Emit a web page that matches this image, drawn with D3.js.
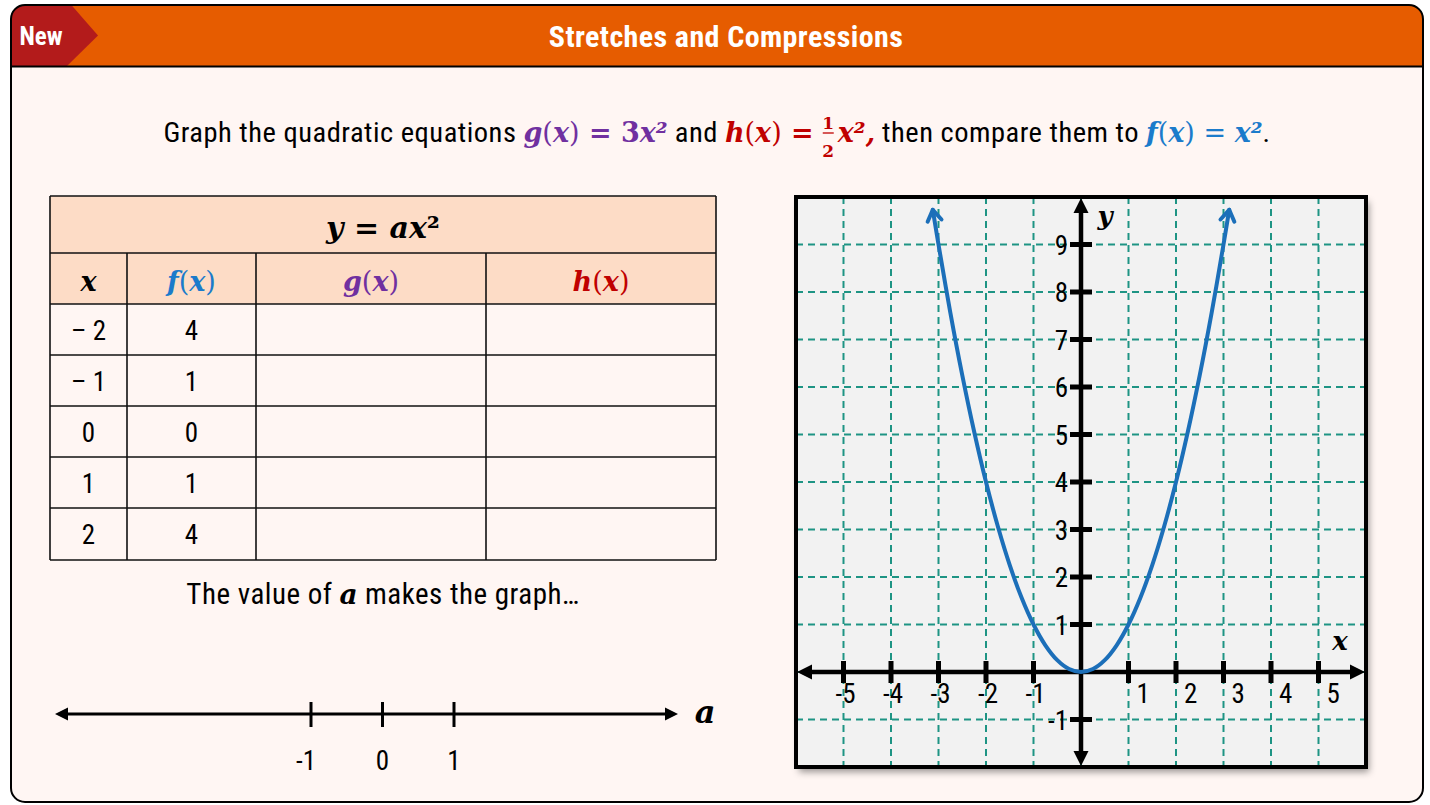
<!DOCTYPE html>
<html>
<head>
<meta charset="utf-8">
<script src="https://cdn.jsdelivr.net/npm/d3@7"></script>
<style>
  html, body { margin: 0; padding: 0; background: #ffffff; }
  svg { display: block; }
</style>
</head>
<body>
<svg id="card" width="1430" height="805"></svg>
<script>
// ---- content ----
const headerTitle = "Stretches and Compressions";
const badgeText = "New";

// table rows: x values and f(x) = x^2 values
const tableX = ["\u2013 2", "\u2013 1", "0", "1", "2"];
const tableF = ["4", "1", "0", "1", "4"];

// coordinate-plane ticks
const gridXTicks = [-5, -4, -3, -2, -1, 0, 1, 2, 3, 4, 5];
const gridYTicks = [-1, 0, 1, 2, 3, 4, 5, 6, 7, 8, 9];
const axisXLabels = [-5, -4, -3, -2, -1, 1, 2, 3, 4, 5];
const axisYLabels = [-1, 1, 2, 3, 4, 5, 6, 7, 8, 9];

// points on the graph of f(x) = x^2
const curveX = [-3.12, -3, -2.75, -2.5, -2.25, -2, -1.75, -1.5, -1.25, -1, -0.75, -0.5, -0.25, 0,
                0.25, 0.5, 0.75, 1, 1.25, 1.5, 1.75, 2, 2.25, 2.5, 2.75, 3, 3.12];
const curveY = [9.73, 9, 7.5625, 6.25, 5.0625, 4, 3.0625, 2.25, 1.5625, 1, 0.5625, 0.25, 0.0625, 0,
                0.0625, 0.25, 0.5625, 1, 1.5625, 2.25, 3.0625, 4, 5.0625, 6.25, 7.5625, 9, 9.73];

// number line for a
const numberLineTicks = [-1, 0, 1];

// ---- styles ----
const C = {
  page: "#FFF6F3",
  orange: "#E65C00",
  red: "#B31B1B",
  peach: "#FDDCC6",
  plotBg: "#F2F2F2",
  grid: "#1E9484",
  curve: "#1C6FB9",
  fBlue: "#1B7BCB",
  gPurple: "#7030A0",
  hRed: "#C00000",
  ink: "#000000"
};
const SANS = "'Liberation Sans Narrow', 'Arial Narrow', 'Roboto Condensed', sans-serif";
const MATH = "'DejaVu Serif', 'Liberation Serif', serif";

const svg = d3.select("#card");
const defs = svg.append("defs");

// drop shadow for the coordinate plane
const sh = defs.append("filter").attr("id", "planeShadow")
  .attr("x", "-5%").attr("y", "-5%").attr("width", "115%").attr("height", "115%");
sh.append("feDropShadow").attr("dx", 3).attr("dy", 5).attr("stdDeviation", 3.5)
  .attr("flood-color", "#000").attr("flood-opacity", 0.4);

// clip to the rounded card
defs.append("clipPath").attr("id", "cardClip")
  .append("rect").attr("x", 11).attr("y", 5).attr("width", 1412).attr("height", 797).attr("rx", 14);

// ---- card frame and header ----
svg.append("rect").attr("x", 11).attr("y", 5).attr("width", 1412).attr("height", 797)
  .attr("rx", 14).attr("fill", C.page);

const head = svg.append("g").attr("clip-path", "url(#cardClip)");
head.append("rect").attr("x", 0).attr("y", 0).attr("width", 1430).attr("height", 66).attr("fill", C.orange);
head.append("path").attr("d", "M0,0 L67,0 L98,35.5 L67,66 L0,66 Z").attr("fill", C.red);
svg.append("line").attr("x1", 11).attr("x2", 1423).attr("y1", 66.5).attr("y2", 66.5)
  .attr("stroke", C.ink).attr("stroke-width", 2);
svg.append("rect").attr("x", 11).attr("y", 5).attr("width", 1412).attr("height", 797)
  .attr("rx", 14).attr("fill", "none").attr("stroke", C.ink).attr("stroke-width", 2);

svg.append("text").attr("x", 41).attr("y", 45).attr("text-anchor", "middle")
  .attr("font-family", SANS).attr("font-weight", "bold").attr("font-size", 25)
  .attr("fill", "#fff").text(badgeText);
svg.append("text").attr("x", 726).attr("y", 47).attr("text-anchor", "middle")
  .attr("font-family", SANS).attr("font-weight", "bold").attr("font-size", 30)
  .attr("letter-spacing", 0.4).attr("fill", "#fff").text(headerTitle);

// ---- helper: write a sequence of styled runs, left to right ----
function runs(parent, x, y, parts) {
  const t = parent.append("text").attr("x", x).attr("y", y);
  parts.forEach(p => {
    const s = t.append("tspan")
      .attr("font-family", p.math ? MATH : SANS)
      .attr("font-style", p.italic ? "italic" : "normal")
      .attr("font-weight", p.bold ? "bold" : "normal")
      .attr("font-size", p.size)
      .attr("fill", p.color || C.ink)
      .text(p.t);
    if (!p.math) s.attr("letter-spacing", 0.5);
  });
  return t;
}
function centeredRuns(parent, cx, y, parts) {
  const t = runs(parent, 0, y, parts);
  const w = t.node().getComputedTextLength();
  t.attr("x", cx - w / 2);
  return t;
}

// ---- instruction sentence (with a stacked fraction) ----
const S = 28.5, M = 27;
const sentence = svg.append("g");
const partA = [
  { t: "Graph the quadratic equations ", size: S },
  { t: "g", math: true, italic: true, bold: true, size: M, color: C.gPurple },
  { t: "(", math: true, size: M, color: C.gPurple },
  { t: "x", math: true, italic: true, bold: true, size: M, color: C.gPurple },
  { t: ")", math: true, size: M, color: C.gPurple },
  { t: " = 3", math: true, bold: true, size: M, color: C.gPurple },
  { t: "x\u00B2", math: true, italic: true, bold: true, size: M, color: C.gPurple },
  { t: " and ", size: S },
  { t: "h", math: true, italic: true, bold: true, size: M, color: C.hRed },
  { t: "(", math: true, size: M, color: C.hRed },
  { t: "x", math: true, italic: true, bold: true, size: M, color: C.hRed },
  { t: ")", math: true, size: M, color: C.hRed },
  { t: " =", math: true, bold: true, size: M, color: C.hRed }
];
const partB = [
  { t: "x\u00B2,", math: true, italic: true, bold: true, size: M, color: C.hRed },
  { t: " then compare them to ", size: S },
  { t: "f", math: true, italic: true, bold: true, size: M, color: C.fBlue },
  { t: "(", math: true, size: M, color: C.fBlue },
  { t: "x", math: true, italic: true, bold: true, size: M, color: C.fBlue },
  { t: ")", math: true, size: M, color: C.fBlue },
  { t: " = ", math: true, size: M, color: C.fBlue },
  { t: "x\u00B2", math: true, italic: true, bold: true, size: M, color: C.fBlue },
  { t: ".", size: S }
];
const lineY = 142;
const tA = runs(sentence, 0, lineY, partA);
const tB = runs(sentence, 0, lineY, partB);
const wA = tA.node().getComputedTextLength();
const wB = tB.node().getComputedTextLength();
const fracGap = 8, fracW = 13, fracAfter = 3;
const total = wA + fracGap + fracW + fracAfter + wB;
const x0 = 717 - total / 2;
tA.attr("x", x0);
const fx = x0 + wA + fracGap + fracW / 2;
sentence.append("text").attr("x", fx).attr("y", lineY - 13).attr("text-anchor", "middle")
  .attr("font-family", MATH).attr("font-weight", "bold").attr("font-size", 17)
  .attr("fill", C.hRed).text("1");
sentence.append("line").attr("x1", fx - 5.5).attr("x2", fx + 5.5).attr("y1", lineY - 9).attr("y2", lineY - 9)
  .attr("stroke", C.hRed).attr("stroke-width", 1.3);
sentence.append("text").attr("x", fx).attr("y", lineY + 15).attr("text-anchor", "middle")
  .attr("font-family", MATH).attr("font-weight", "bold").attr("font-size", 17)
  .attr("fill", C.hRed).text("2");
tB.attr("x", x0 + wA + fracGap + fracW + fracAfter);

// ---- table y = a x^2 ----
const colEdges = [50, 127, 256, 486, 716];
const rowEdges = [196, 253, 304, 355, 406, 457, 508, 560];
const table = svg.append("g");
table.append("rect").attr("x", colEdges[0]).attr("y", rowEdges[0])
  .attr("width", colEdges[4] - colEdges[0]).attr("height", rowEdges[2] - rowEdges[0])
  .attr("fill", C.peach);
// horizontal rules
table.selectAll("line.h").data(rowEdges).join("line").attr("class", "h")
  .attr("x1", colEdges[0]).attr("x2", colEdges[4]).attr("y1", d => d).attr("y2", d => d)
  .attr("stroke", "#111").attr("stroke-width", 1.6);
// vertical rules (inner ones start below the merged title row)
table.selectAll("line.v").data(colEdges).join("line").attr("class", "v")
  .attr("x1", d => d).attr("x2", d => d)
  .attr("y1", (d, i) => (i === 0 || i === 4) ? rowEdges[0] : rowEdges[1])
  .attr("y2", rowEdges[7])
  .attr("stroke", "#111").attr("stroke-width", 1.6);

centeredRuns(table, (colEdges[0] + colEdges[4]) / 2, 238, [
  { t: "y", math: true, italic: true, bold: true, size: 30 },
  { t: " = ", math: true, bold: true, size: 30 },
  { t: "ax", math: true, italic: true, bold: true, size: 30 },
  { t: "\u00B2", math: true, bold: true, size: 30 }
]);

const colMid = i => (colEdges[i] + colEdges[i + 1]) / 2;
const headCells = [
  { name: "x", color: C.ink, plain: true },
  { name: "f", color: C.fBlue },
  { name: "g", color: C.gPurple },
  { name: "h", color: C.hRed }
];
headCells.forEach((h, i) => {
  const parts = h.plain
    ? [{ t: "x", math: true, italic: true, bold: true, size: 27, color: h.color }]
    : [
        { t: h.name, math: true, italic: true, bold: true, size: 27, color: h.color },
        { t: "(", math: true, size: 27, color: h.color },
        { t: "x", math: true, italic: true, bold: true, size: 27, color: h.color },
        { t: ")", math: true, size: 27, color: h.color }
      ];
  centeredRuns(table, colMid(i), 291, parts);
});

const rowMid = i => (rowEdges[i + 2] + rowEdges[i + 3]) / 2;
table.selectAll("text.xv").data(tableX).join("text").attr("class", "xv")
  .attr("x", colMid(0)).attr("y", (d, i) => rowMid(i) + 10).attr("text-anchor", "middle")
  .attr("font-family", SANS).attr("font-size", 27).attr("fill", C.ink).text(d => d);
table.selectAll("text.fv").data(tableF).join("text").attr("class", "fv")
  .attr("x", colMid(1)).attr("y", (d, i) => rowMid(i) + 10).attr("text-anchor", "middle")
  .attr("font-family", SANS).attr("font-size", 27).attr("fill", C.ink).text(d => d);

// ---- prompt and number line ----
centeredRuns(svg, 383, 604, [
  { t: "The value of ", size: 29 },
  { t: "a", math: true, italic: true, bold: true, size: 28 },
  { t: " makes the graph\u2026", size: 29 }
]);

const nl = d3.scaleLinear().domain([-1, 1]).range([311, 454]);
const nlY = 714, nlLeft = 55, nlRight = 678;
svg.append("line").attr("x1", nlLeft + 8).attr("x2", nlRight - 8).attr("y1", nlY).attr("y2", nlY)
  .attr("stroke", C.ink).attr("stroke-width", 3.2);
svg.append("path").attr("d", `M${nlLeft},${nlY} L${nlLeft + 13},${nlY - 6.5} L${nlLeft + 13},${nlY + 6.5} Z`).attr("fill", C.ink);
svg.append("path").attr("d", `M${nlRight},${nlY} L${nlRight - 13},${nlY - 6.5} L${nlRight - 13},${nlY + 6.5} Z`).attr("fill", C.ink);
svg.selectAll("line.nlt").data(numberLineTicks).join("line").attr("class", "nlt")
  .attr("x1", d => nl(d)).attr("x2", d => nl(d)).attr("y1", nlY - 12).attr("y2", nlY + 13)
  .attr("stroke", C.ink).attr("stroke-width", 3);
svg.selectAll("text.nll").data(numberLineTicks).join("text").attr("class", "nll")
  .attr("x", d => nl(d) - (d < 0 ? 5 : 0)).attr("y", 770).attr("text-anchor", "middle")
  .attr("font-family", SANS).attr("font-size", 27).attr("fill", C.ink).text(d => d);
svg.append("text").attr("x", 705).attr("y", 723).attr("text-anchor", "middle")
  .attr("font-family", MATH).attr("font-style", "italic").attr("font-weight", "bold")
  .attr("font-size", 32).attr("fill", C.ink).text("a");

// ---- coordinate plane ----
const px = d3.scaleLinear().domain([-6, 6]).range([796, 1366]);
const py = d3.scaleLinear().domain([-2, 10]).range([767, 197]);
const [pl, pr] = px.range();
const [pb, pt] = py.range();

const plane = svg.append("g");
plane.append("rect").attr("x", pl).attr("y", pt).attr("width", pr - pl).attr("height", pb - pt)
  .attr("fill", C.plotBg).attr("filter", "url(#planeShadow)");

// dashed grid
plane.selectAll("line.gx").data(gridXTicks).join("line").attr("class", "gx")
  .attr("x1", d => px(d)).attr("x2", d => px(d)).attr("y1", pt).attr("y2", pb)
  .attr("stroke", C.grid).attr("stroke-width", 2).attr("stroke-dasharray", "7 5");
plane.selectAll("line.gy").data(gridYTicks).join("line").attr("class", "gy")
  .attr("x1", pl).attr("x2", pr).attr("y1", d => py(d)).attr("y2", d => py(d))
  .attr("stroke", C.grid).attr("stroke-width", 2).attr("stroke-dasharray", "7 5");

// axes with arrowheads
const ax0 = px(0), ay0 = py(0), ah = 15, aw = 7.5;
plane.append("line").attr("x1", pl + 10).attr("x2", pr - 10).attr("y1", ay0).attr("y2", ay0)
  .attr("stroke", C.ink).attr("stroke-width", 4.5);
plane.append("line").attr("x1", ax0).attr("x2", ax0).attr("y1", pt + 10).attr("y2", pb - 10)
  .attr("stroke", C.ink).attr("stroke-width", 4.5);
plane.append("path").attr("d", `M${pl + 1},${ay0} L${pl + 1 + ah},${ay0 - aw} L${pl + 1 + ah},${ay0 + aw} Z`).attr("fill", C.ink);
plane.append("path").attr("d", `M${pr - 1},${ay0} L${pr - 1 - ah},${ay0 - aw} L${pr - 1 - ah},${ay0 + aw} Z`).attr("fill", C.ink);
plane.append("path").attr("d", `M${ax0},${pt + 1} L${ax0 - aw},${pt + 1 + ah} L${ax0 + aw},${pt + 1 + ah} Z`).attr("fill", C.ink);
plane.append("path").attr("d", `M${ax0},${pb - 1} L${ax0 - aw},${pb - 1 - ah} L${ax0 + aw},${pb - 1 - ah} Z`).attr("fill", C.ink);

// tick marks
plane.selectAll("line.tx").data(axisXLabels).join("line").attr("class", "tx")
  .attr("x1", d => px(d)).attr("x2", d => px(d)).attr("y1", ay0 - 11).attr("y2", ay0 + 11)
  .attr("stroke", C.ink).attr("stroke-width", 5);
plane.selectAll("line.ty").data(axisYLabels).join("line").attr("class", "ty")
  .attr("x1", ax0 - 11).attr("x2", ax0 + 11).attr("y1", d => py(d)).attr("y2", d => py(d))
  .attr("stroke", C.ink).attr("stroke-width", 5);

// tick labels
plane.selectAll("text.lx").data(axisXLabels).join("text").attr("class", "lx")
  .attr("x", d => px(d) + (d < 0 ? -8 : 8)).attr("y", ay0 + 31)
  .attr("font-family", SANS).attr("font-size", 27).attr("fill", C.ink).text(d => d);
plane.selectAll("text.ly").data(axisYLabels).join("text").attr("class", "ly")
  .attr("x", ax0 - 13).attr("y", d => py(d) + 10).attr("text-anchor", "end")
  .attr("font-family", SANS).attr("font-size", 27).attr("fill", C.ink).text(d => d);

// axis names
plane.append("text").attr("x", ax0 + 24).attr("y", pt + 28).attr("text-anchor", "middle")
  .attr("font-family", MATH).attr("font-style", "italic").attr("font-weight", "bold")
  .attr("font-size", 26).attr("fill", C.ink).text("y");
plane.append("text").attr("x", pr - 26).attr("y", ay0 - 22).attr("text-anchor", "middle")
  .attr("font-family", MATH).attr("font-style", "italic").attr("font-weight", "bold")
  .attr("font-size", 26).attr("fill", C.ink).text("x");

// frame of the plane
plane.append("rect").attr("x", pl).attr("y", pt).attr("width", pr - pl).attr("height", pb - pt)
  .attr("fill", "none").attr("stroke", C.ink).attr("stroke-width", 4);

// the parabola f(x) = x^2 with open arrowheads at both ends
const pts = curveX.map((x, i) => [px(x), py(curveY[i])]);
const lineGen = d3.line().curve(d3.curveCatmullRom.alpha(0.5));
plane.append("path").attr("d", lineGen(pts)).attr("fill", "none")
  .attr("stroke", C.curve).attr("stroke-width", 4).attr("stroke-linecap", "round");

function chevron(tip, from) {
  const ang = Math.atan2(tip[1] - from[1], tip[0] - from[0]);
  const L = 13, spread = Math.PI / 5.5;
  const a1 = [tip[0] - L * Math.cos(ang - spread), tip[1] - L * Math.sin(ang - spread)];
  const a2 = [tip[0] - L * Math.cos(ang + spread), tip[1] - L * Math.sin(ang + spread)];
  plane.append("path").attr("d", `M${a1[0]},${a1[1]} L${tip[0]},${tip[1]} L${a2[0]},${a2[1]}`)
    .attr("fill", "none").attr("stroke", C.curve).attr("stroke-width", 4)
    .attr("stroke-linecap", "round").attr("stroke-linejoin", "round");
}
chevron(pts[0], pts[1]);
chevron(pts[pts.length - 1], pts[pts.length - 2]);
</script>
</body>
</html>
